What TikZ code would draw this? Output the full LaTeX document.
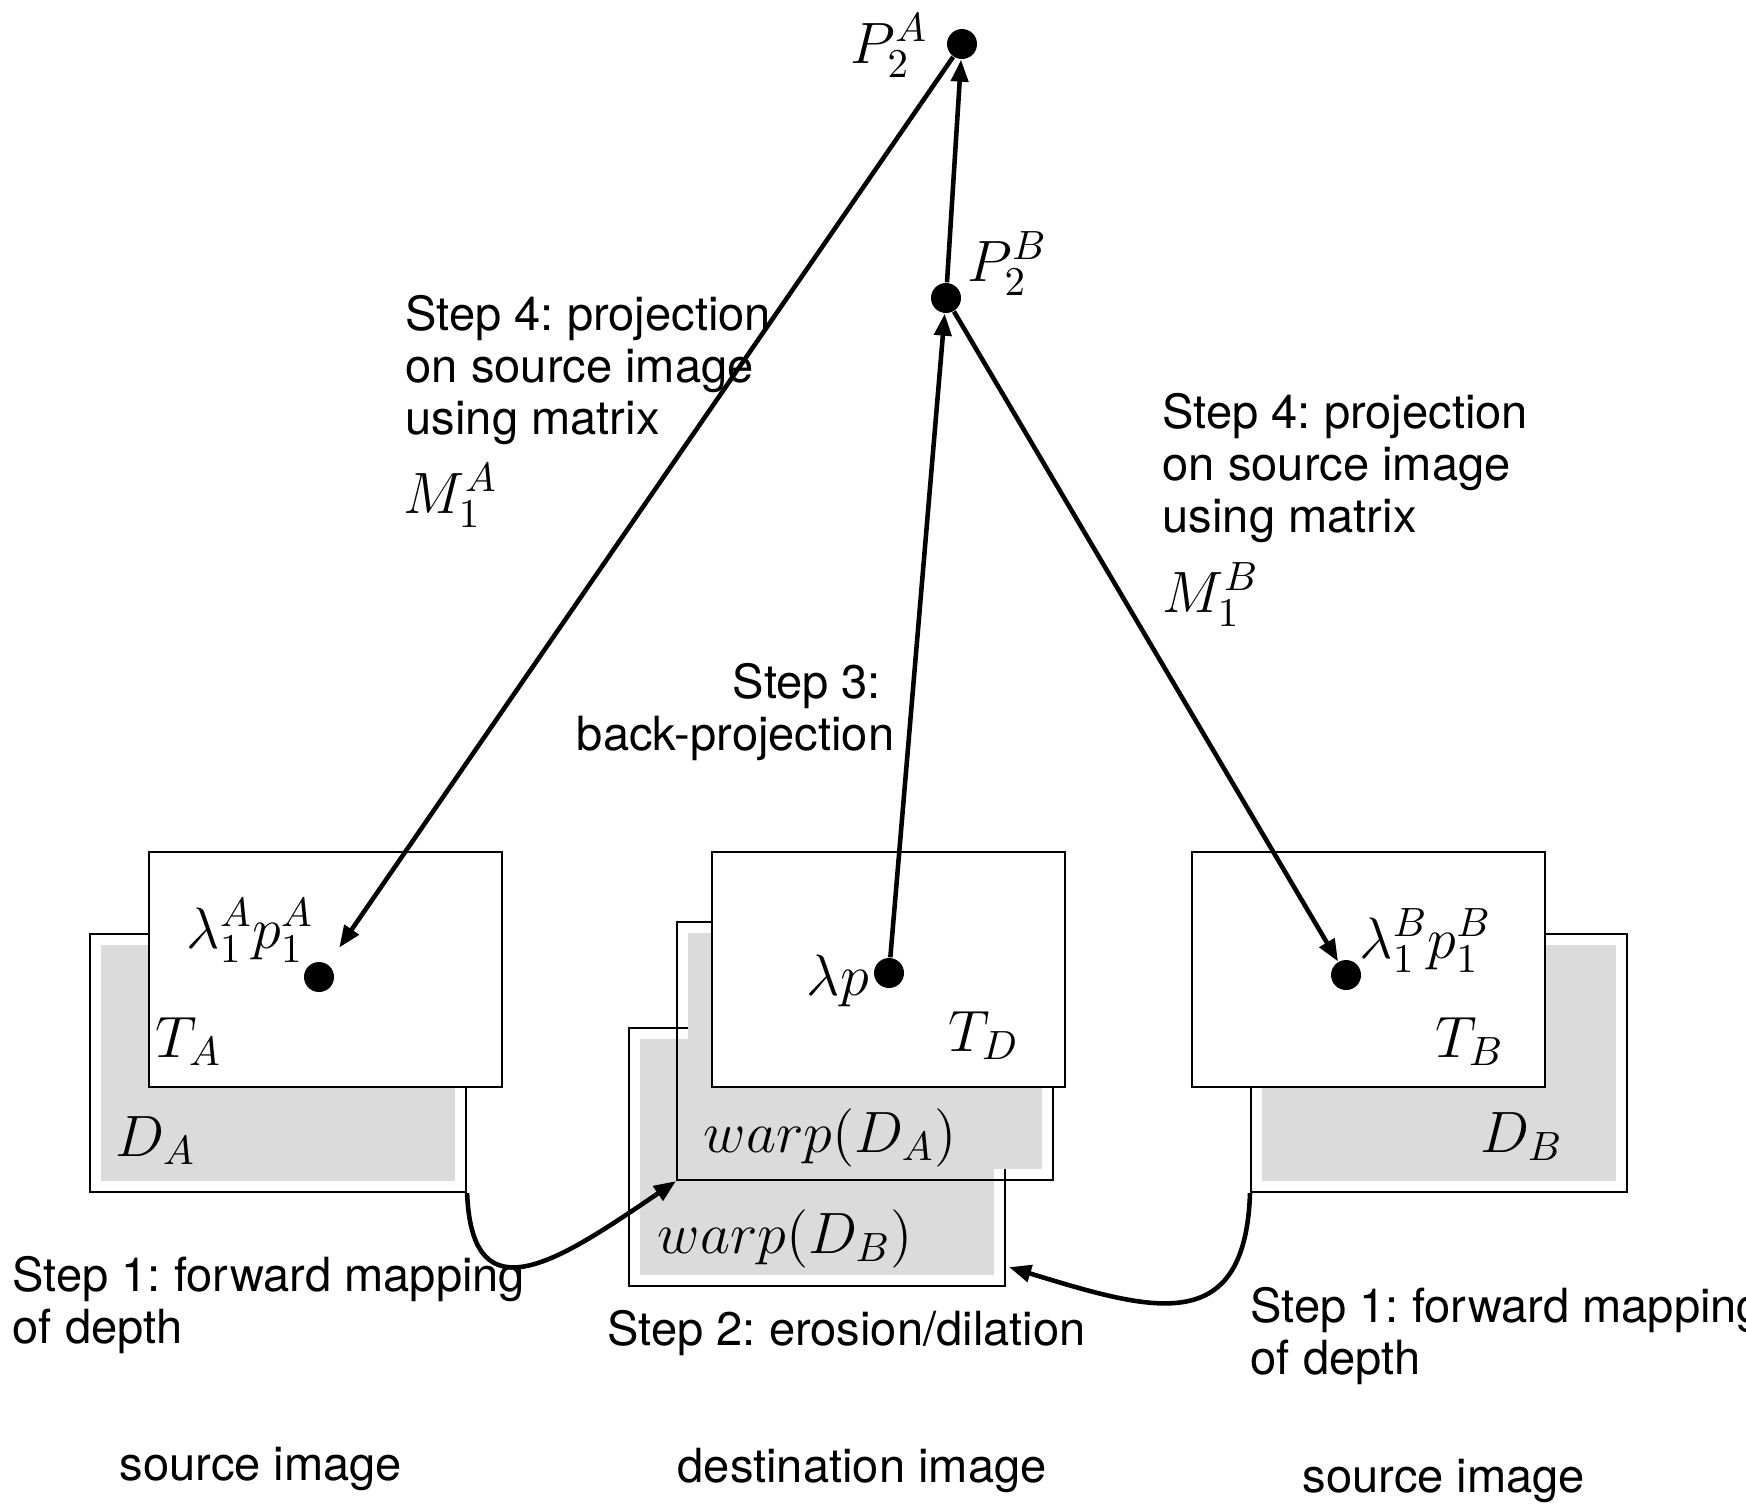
\documentclass[tikz,border=0pt]{standalone}
\usepackage{fix-cm}
\usepackage{fontspec}
\setsansfont{TeX Gyre Heros}
\usepackage{xcolor}
\definecolor{cDepth}{HTML}{DBDBDB}
\usetikzlibrary{positioning,arrows.meta,calc}
\tikzset{
  img-tex/.style={draw,line width=0.6pt,fill=white,anchor=north west,
    minimum width=35.3mm,minimum height=23.5mm,inner sep=0},
  img-depth/.style={draw,line width=0.6pt,anchor=north west,
    minimum width=37.6mm,minimum height=25.8mm,inner sep=0,
    path picture={\fill[cDepth]
      ([shift={(1.1mm,1.1mm)}]path picture bounding box.south west) rectangle
      ([shift={(-1.1mm,-1.1mm)}]path picture bounding box.north east);}},
  pt-dot/.style={circle,fill,inner sep=0,minimum size=3mm},
  lbl-math/.style={anchor=base west,inner sep=0,
    font=\fontsize{16.6}{20}\selectfont},
  % multi-line labels: base anchor sits on the last line
  lbl-text/.style={anchor=base west,inner sep=0,align=left,
    font=\sffamily\fontsize{13.4}{14.7}\selectfont\frenchspacing},
  arrow/.style={-{Triangle[length=2.2mm,width=1.7mm]},line width=1.3pt},
}

\begin{document}
\begin{tikzpicture}[x=0.1mm,y=-0.1mm]
  \useasboundingbox (0,0) rectangle (1746,1508);
  % source image A
  \node[img-depth] (dA) at (89,933) {};
  \node[img-tex] (tA) at (148,851) {};
  \node[pt-dot] (dotA) at (319,977) {};
  \node[lbl-math] (lblA) at (186,948) {$\lambda_1^A p_1^A$};
  \node[lbl-math] (lblTA) at (155,1057) {$T_A$};
  \node[lbl-math] (lblDA) at (115,1156) {$D_A$};
  % destination image
  \node[img-depth] (wB) at (628,1027) {};
  \node[img-depth] (wA) at (676,921) {};
  \node[img-tex] (tD) at (711,851) {};
  \node[pt-dot] (lp) at (889,973) {};
  \node[lbl-math] (lblLP) at (806,995) {$\lambda p$};
  \node[lbl-math] (lblTD) at (948,1051) {$T_D$};
  \node[lbl-math] (lblWA) at (703,1152) {$warp(D_A)$};
  \node[lbl-math] (lblWB) at (657,1253) {$warp(D_B)$};
  % source image B
  \node[img-depth] (dB) at (1250,933) {};
  \node[img-tex] (tB) at (1191,851) {};
  \node[pt-dot] (dotB) at (1346,975) {};
  \node[lbl-math] (lblB) at (1359,958) {$\lambda_1^B p_1^B$};
  \node[lbl-math] (lblTB) at (1435,1057) {$T_B$};
  \node[lbl-math] (lblDB) at (1480,1152) {$D_B$};
  % 3D points
  \node[pt-dot] (pA) at (962,44) {};
  \node[pt-dot] (pB) at (946,298) {};
  \node[lbl-math] (lblPA) at (850,63) {$P_2^A$};
  \node[lbl-math] (lblPB) at (967,281) {$P_2^B$};
  % step texts
  \node[lbl-text] (s4a) at (405,434) {Step 4: projection\\on source image\\using matrix};
  \node[lbl-math] (mA) at (403,513) {$M_1^A$};
  \node[lbl-text] (s4b) at (1162,532) {Step 4: projection\\on source image\\using matrix};
  \node[lbl-math] (mB) at (1162,612) {$M_1^B$};
  \node[lbl-text,anchor=base east,align=right] (s3) at (895,750) {Step 3:\hspace*{0.28em}\\back-projection};
  \node[lbl-text] (s1a) at (12,1343) {Step 1: forward mapping\\of depth};
  \node[lbl-text] (s2) at (607,1345) {Step 2: erosion/dilation};
  \node[lbl-text] (s1b) at (1250,1374) {Step 1: forward mapping\\of depth};
  \node[lbl-text] (capA) at (119,1480) {source image};
  \node[lbl-text] (capD) at (677,1482) {destination image};
  \node[lbl-text] (capB) at (1302,1492) {source image};
  % connectors
  \draw[arrow] (lp) -- (pB);
  \draw[arrow] (pB) -- (pA);
  \draw[arrow,shorten >=2mm] (pA) -- (dotA);
  \draw[arrow] (pB) -- (dotB);
  \draw[arrow] (dA.south east) .. controls (472,1320) and (560,1260) .. (wA.south west);
  \coordinate (wBin) at ($(wB.south east)+(3,-20)$);
  \draw[arrow] (dB.south west) .. controls (1245,1340) and (1150,1310) .. (wBin);
\end{tikzpicture}
\end{document}
